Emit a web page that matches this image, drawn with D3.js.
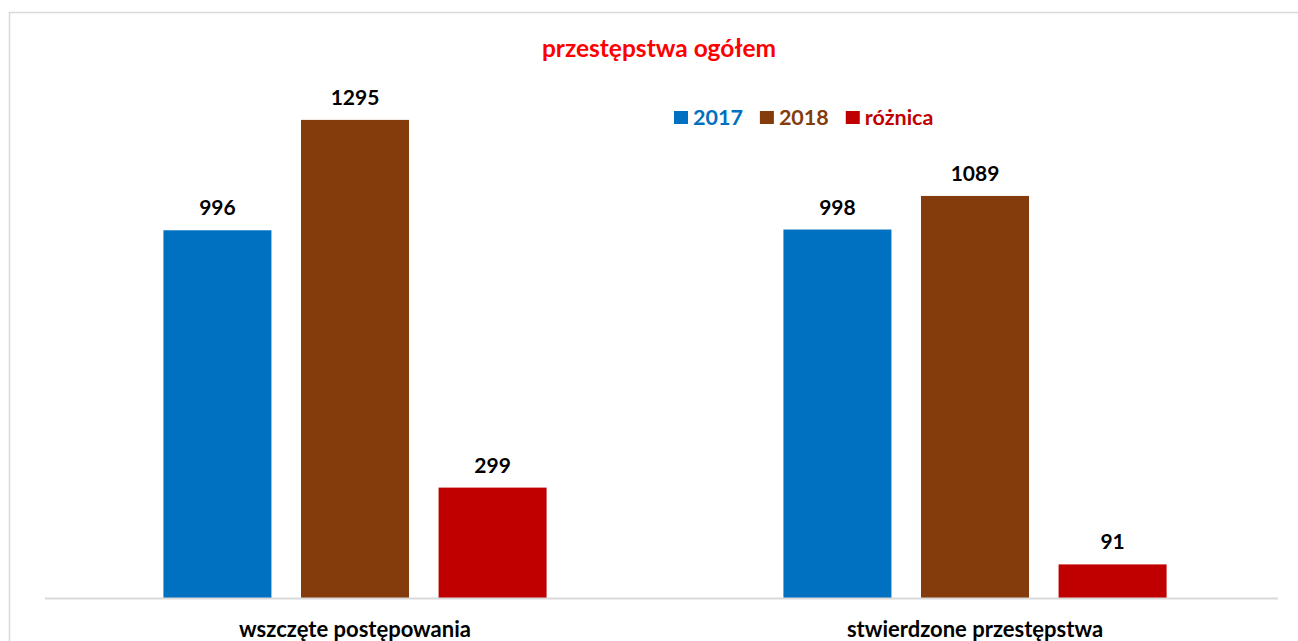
<!DOCTYPE html>
<html><head><meta charset="utf-8">
<script src="https://cdn.jsdelivr.net/npm/d3@7"></script>
<style>body{margin:0;background:#fff}svg{display:block}text{font-family:Lato,"Open Sans",sans-serif;font-weight:bold}</style>
</head><body><svg id="c" width="1298" height="641"></svg>
<script>
const categories = ["wszczęte postępowania", "stwierdzone przestępstwa"];
const seriesNames = ["2017", "2018", "różnica"];
const values2017 = [996, 998];
const values2018 = [1295, 1089];
const valuesDiff = [299, 91];
const seriesColors = ["#0070C0", "#843C0C", "#C00000"];
const title = "przestępstwa ogółem";

const seriesValues = [values2017, values2018, valuesDiff];
const svg = d3.select("#c");
const W = 1298, H = 641;

svg.append("rect").attr("x",9.5).attr("y",12.5).attr("width",W+10).attr("height",H+10)
  .attr("fill","none").attr("stroke","#d9d9d9").attr("stroke-width",1.5);

const x0 = d3.scaleBand().domain(categories).range([45,1285]).paddingInner(0.382).paddingOuter(0.191);
const x1 = d3.scaleBand().domain(seriesNames).range([0,x0.bandwidth()]).paddingInner(0.215).paddingOuter(0);
const y = d3.scaleLinear().domain([0,1400]).range([598, 598-1400*0.3692]);

const g = svg.append("g");
categories.forEach((c,ci)=>{
  seriesNames.forEach((s,si)=>{
    const v = seriesValues[si][ci];
    const bx = x0(c)+x1(s);
    g.append("rect").attr("x",bx).attr("y",y(v)).attr("width",x1.bandwidth()).attr("height",y(0)-y(v))
      .attr("fill",seriesColors[si]);
    g.append("text").attr("x",bx+x1.bandwidth()/2).attr("y",y(v)-15).attr("text-anchor","middle")
      .attr("font-size",21).attr("fill","#000").text(v);
  });
});

// baseline axis
const ax = svg.append("g").attr("transform","translate(0,598)").call(d3.axisBottom(x0).tickSize(0).tickPadding(0));
ax.select(".domain").attr("d","M45,0.5H1278").attr("stroke","#d9d9d9").attr("stroke-width",2);
ax.selectAll(".tick text").attr("font-size",22).attr("fill","#000").attr("y",38.5).attr("dy",0)
  .style("font-family","Lato").style("font-weight","bold");

svg.append("text").attr("x",659).attr("y",57).attr("text-anchor","middle").attr("font-size",24.5)
  .attr("fill","#FF0000").text(title);

// legend
let lx = 674;
const leg = svg.append("g");
seriesNames.forEach((s,i)=>{
  leg.append("rect").attr("x",lx).attr("y",111).attr("width",14).attr("height",13).attr("fill",seriesColors[i]);
  const t = leg.append("text").attr("x",lx+19).attr("y",124.5).attr("font-size",21.5).attr("fill",seriesColors[i]).text(s);
  lx += 19 + t.node().getComputedTextLength() + 17;
});
</script></body></html>
